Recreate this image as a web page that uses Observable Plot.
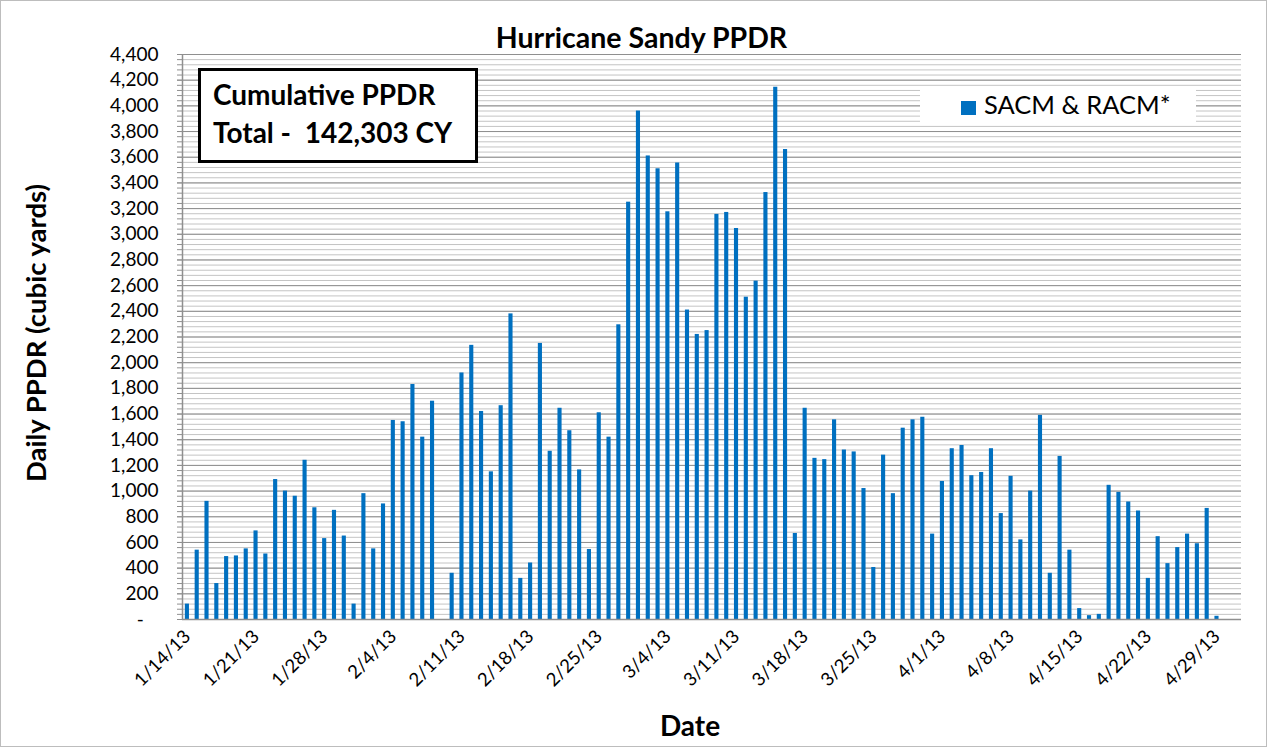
<!DOCTYPE html>
<html>
<head>
<meta charset="utf-8">
<script src="https://cdn.jsdelivr.net/npm/d3@7"></script>
<script src="https://cdn.jsdelivr.net/npm/@observablehq/plot@0.6"></script>
<style>
  html, body { margin: 0; padding: 0; background: #fff; }
  #wrap { position: relative; width: 1269px; height: 749px; background: #fff; overflow: hidden; font-family: Lato, "Open Sans", sans-serif; }
  #chart { position: absolute; left: 0; top: 0; }
  .frame { position: absolute; left: 0; top: 0; width: 1265px; height: 745px; border: 1px solid #bdbdbd; pointer-events: none; }
  .title { position: absolute; left: 0; width: 1283px; top: 23px; line-height: 1; text-align: center; font-weight: bold; font-size: 28.5px; color: #000; }
  .ylab { position: absolute; left: -164px; width: 400px; top: 318px; height: 30px; line-height: 30px; text-align: center; font-weight: bold; font-size: 27.5px; transform: rotate(-90deg); color: #000; }
  .xlab { position: absolute; left: 590px; width: 200px; top: 708px; text-align: center; font-weight: bold; font-size: 28px; color: #000; }
  .note { position: absolute; left: 198px; top: 68px; width: 274px; height: 89px; border: 3px solid #000; background: #fff; font-weight: bold; font-size: 28px; line-height: 35px; padding: 0; box-sizing: content-box; }
  .note div { position: absolute; left: 12px; white-space: pre; }
  .legend { position: absolute; left: 920px; top: 87px; width: 276px; height: 38px; background: #fff; font-size: 25.5px; }
  .legend .sw { position: absolute; left: 41px; top: 14px; width: 15px; height: 14px; background: #0070C0; }
  .legend .tx { position: absolute; left: 64px; top: 2px; white-space: nowrap; }
</style>
</head>
<body>
<div id="wrap">
  <div id="chart"></div>
  <div class="title">Hurricane Sandy PPDR</div>
  <div class="ylab">Daily PPDR (cubic yards)</div>
  <div class="xlab">Date</div>
  <div class="note"><div style="top:6px">Cumulative PPDR</div><div style="top:44px">Total -  142,303 CY</div></div>
  <div class="legend"><div class="sw"></div><div class="tx">SACM &amp; RACM*</div></div>
  <div class="frame"></div>
</div>
<script>
// First day of the series and last day of the axis
const startDay = [2013, 0, 14];
const endDayExclusive = [2013, 4, 2];

// Daily PPDR (cubic yards), one value per day from 1/14/13 to 4/29/13 (null = no collection)
const ppdr = [
  120, 540, 920, 280, 490, 495, 550, 690, 510, 1090, 1000, 960, 1240, 870, 630, 850, 650, 120,   // 1/14 - 1/31
  980, 550, 900, 1550, 1540, 1830, 1420, 1700, null, 360, 1920, 2135, 1620, 1150, 1665, 2380,     // 2/1 - 2/16
  320, 440, 2150, 1310, 1645, 1470, 1165, 545, 1610, 1420, 2295, 3250,                            // 2/17 - 2/28
  3960, 3610, 3510, 3175, 3555, 2410, 2220, 2250, 3155, 3170, 3045, 2510, 2635, 3325, 4145, 3660, // 3/1 - 3/16
  670, 1645, 1255, 1245, 1555, 1320, 1305, 1020, 405, 1280, 980, 1490, 1555, 1575, 665,          // 3/17 - 3/31
  1075, 1330, 1355, 1120, 1145, 1330, 825, 1115, 620, 1000, 1590, 360, 1270, 540, 85,            // 4/1 - 4/15
  30, 40, 1045, 990, 915, 845, 320, 645, 435, 560, 665, 590, 865, 25                             // 4/16 - 4/29
];

// Axis tick labels
const xTickLabels = ["1/14/13","1/21/13","1/28/13","2/4/13","2/11/13","2/18/13","2/25/13","3/4/13",
                     "3/11/13","3/18/13","3/25/13","4/1/13","4/8/13","4/15/13","4/22/13","4/29/13"];
const yTickValues = [0,200,400,600,800,1000,1200,1400,1600,1800,2000,2200,2400,2600,2800,3000,3200,3400,3600,3800,4000,4200,4400];

const fmt = d3.utcFormat("%-m/%-d/%y");
const days = d3.utcDay.range(new Date(Date.UTC(...startDay)), new Date(Date.UTC(...endDayExclusive))).map(fmt);
const data = ppdr.map((v, i) => ({date: days[i], value: v})).filter(d => d.value != null);

const minorGrid = d3.range(0, 4401, 40);

const W = 1269, H = 749, mL = 182, mR = 28, mT = 54, mB = 130;
const step = (W - mL - mR) / days.length;

const chart = Plot.plot({
  width: W, height: H,
  marginLeft: mL, marginRight: mR, marginTop: mT, marginBottom: mB,
  style: {fontFamily: "Lato, 'Open Sans', sans-serif", background: "transparent", color: "#000"},
  x: {type: "band", domain: days, paddingInner: 0.58, paddingOuter: 0.29},
  y: {domain: [0, 4400]},
  marks: [
    Plot.ruleY(minorGrid, {stroke: "#c4c4c4", strokeWidth: 1}),
    Plot.ruleY(yTickValues, {stroke: "#8f8f8f", strokeWidth: 1}),
    Plot.axisY(minorGrid, {tickSize: 5, tickFormat: () => "", stroke: "#8f8f8f", label: null}),
    Plot.axisY(yTickValues, {
      tickSize: 5, tickPadding: 19, fontSize: 19, stroke: "#8f8f8f", label: null,
      tickFormat: d => d === 0 ? "-\u00a0\u00a0\u00a0" : d3.format(",")(d)
    }),
    Plot.barY(data, {x: "date", y: "value", fill: "#0070C0"}),
    Plot.ruleY([0], {stroke: "#8f8f8f", strokeWidth: 1.5}),
    Plot.ruleX([days[0]], {dx: -step / 2, stroke: "#8f8f8f", strokeWidth: 1.5}),
    Plot.axisX(xTickLabels, {tickRotate: -45, tickSize: 0, tickPadding: 14, fontSize: 18.5, label: null})
  ]
});
document.getElementById("chart").appendChild(chart);
</script>
</body>
</html>
